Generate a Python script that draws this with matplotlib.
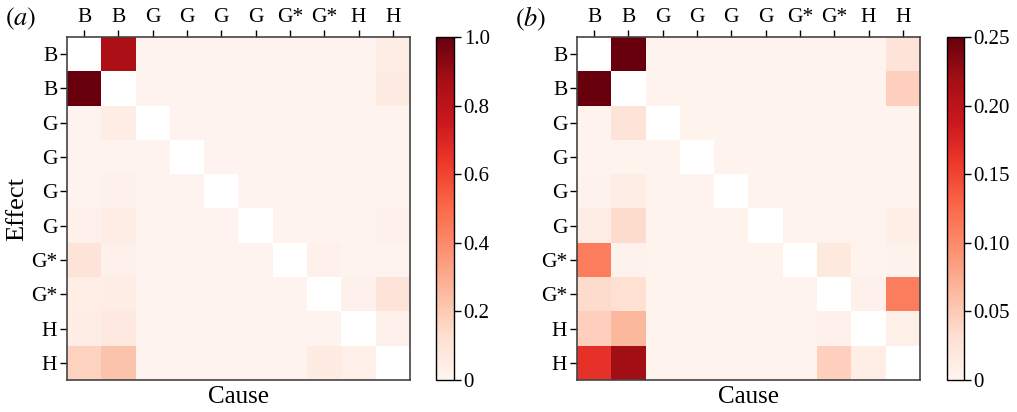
import numpy as np
import matplotlib.pyplot as plt
from matplotlib import colormaps

plt.rcParams['font.family'] = ['Liberation Serif', 'DejaVu Serif']
plt.rcParams['mathtext.fontset'] = 'stix'

labels = ['B', 'B', 'G', 'G', 'G', 'G', 'G*', 'G*', 'H', 'H']

# rows = effect, columns = cause
strength_a = [
    [0.00, 0.85, 0.01, 0.01, 0.01, 0.01, 0.01, 0.01, 0.01, 0.05],
    [1.00, 0.00, 0.01, 0.01, 0.01, 0.01, 0.01, 0.01, 0.01, 0.06],
    [0.01, 0.05, 0.00, 0.01, 0.01, 0.01, 0.01, 0.01, 0.01, 0.01],
    [0.01, 0.01, 0.01, 0.00, 0.01, 0.01, 0.01, 0.01, 0.01, 0.01],
    [0.01, 0.02, 0.01, 0.01, 0.00, 0.01, 0.01, 0.01, 0.01, 0.01],
    [0.02, 0.05, 0.01, 0.01, 0.01, 0.00, 0.01, 0.01, 0.01, 0.02],
    [0.10, 0.02, 0.01, 0.01, 0.01, 0.01, 0.00, 0.02, 0.01, 0.01],
    [0.04, 0.05, 0.01, 0.01, 0.01, 0.01, 0.01, 0.00, 0.02, 0.10],
    [0.05, 0.07, 0.01, 0.01, 0.01, 0.01, 0.01, 0.01, 0.00, 0.02],
    [0.17, 0.22, 0.01, 0.01, 0.01, 0.01, 0.01, 0.06, 0.03, 0.00],
]

strength_b = [
    [0.000, 0.260, 0.003, 0.003, 0.003, 0.003, 0.003, 0.003, 0.003, 0.025],
    [0.260, 0.000, 0.003, 0.003, 0.003, 0.003, 0.003, 0.003, 0.003, 0.045],
    [0.003, 0.025, 0.000, 0.003, 0.003, 0.003, 0.003, 0.003, 0.003, 0.003],
    [0.003, 0.003, 0.003, 0.000, 0.003, 0.003, 0.003, 0.003, 0.003, 0.003],
    [0.004, 0.012, 0.003, 0.003, 0.000, 0.003, 0.003, 0.003, 0.003, 0.003],
    [0.012, 0.035, 0.003, 0.003, 0.003, 0.000, 0.003, 0.003, 0.003, 0.010],
    [0.110, 0.004, 0.003, 0.003, 0.003, 0.003, 0.000, 0.018, 0.003, 0.004],
    [0.035, 0.030, 0.003, 0.003, 0.003, 0.003, 0.003, 0.000, 0.005, 0.110],
    [0.045, 0.065, 0.003, 0.003, 0.003, 0.003, 0.003, 0.005, 0.000, 0.008],
    [0.165, 0.220, 0.003, 0.003, 0.003, 0.003, 0.003, 0.045, 0.010, 0.000],
]

ticks_a = [0, 0.2, 0.4, 0.6, 0.8, 1.0]
ticklabels_a = ['0', '0.2', '0.4', '0.6', '0.8', '1.0']
ticks_b = [0, 0.05, 0.10, 0.15, 0.20, 0.25]
ticklabels_b = ['0', '0.05', '0.10', '0.15', '0.20', '0.25']

W, H = 1017, 412
fig = plt.figure(figsize=(W / 100, H / 100), dpi=100)


def px(l, r, t, b):
    return [l / W, (H - b) / H, (r - l) / W, (b - t) / H]


cmap = colormaps['Reds'].copy()
cmap.set_bad('white')


def panel(data, vmax, ticks, ticklabels, ax_box, cb_box, tag, ylabel):
    ax = fig.add_axes(px(*ax_box))
    m = np.array(data, dtype=float)
    np.fill_diagonal(m, np.nan)
    im = ax.imshow(m, cmap=cmap, vmin=0, vmax=vmax, aspect='auto',
                   interpolation='nearest')
    ax.xaxis.tick_top()
    ax.set_xticks(range(10))
    ax.set_xticklabels(labels, fontsize=15.5)
    ax.set_yticks(range(10))
    ax.set_yticklabels(labels, fontsize=15.5)
    ax.tick_params(length=5, width=1, pad=2)
    for s in ax.spines.values():
        s.set_color('#444444')
        s.set_linewidth(1.2)
    ax.set_xlabel('Cause', fontsize=18, labelpad=4)
    if ylabel:
        ax.set_ylabel('Effect', fontsize=19, labelpad=2)

    cax = fig.add_axes(px(*cb_box))
    cb = fig.colorbar(im, cax=cax)
    cb.set_ticks(ticks)
    cb.set_ticklabels(ticklabels)
    cax.tick_params(labelsize=15, length=5, width=1, pad=2)
    cb.outline.set_linewidth(1)

    fig.text(ax_box[0] / W - 62 / W, 1 - 19 / H, tag, fontsize=19,
             va='center', ha='left')


panel(strength_a, 1.0, ticks_a, ticklabels_a,
      (67, 410, 37, 380), (436, 454, 37, 380), r'$(a)$', True)
panel(strength_b, 0.25, ticks_b, ticklabels_b,
      (577, 920, 37, 380), (947, 964, 37, 380), r'$(b)$', False)

fig.savefig('out.png', dpi=100)
